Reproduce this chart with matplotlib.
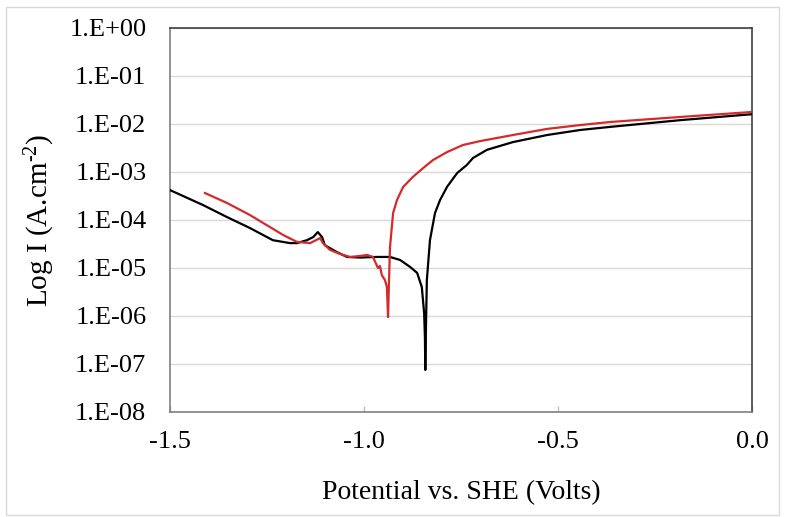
import matplotlib
matplotlib.use("Agg")
import matplotlib.pyplot as plt
from matplotlib.patches import Rectangle
from matplotlib.ticker import FixedLocator

plt.rcParams['font.family'] = ['Liberation Serif', 'DejaVu Serif']
plt.rcParams['mathtext.fontset'] = 'custom'
plt.rcParams['mathtext.rm'] = 'Liberation Serif'
plt.rcParams['mathtext.it'] = 'Liberation Serif:italic'

# Black curve (sample 1)
black_v = [-1.500, -1.415, -1.353, -1.294, -1.235, -1.191, -1.173, -1.147, -1.131, -1.119,
           -1.108, -1.101, -1.088, -1.070, -1.044, -1.010, -0.967, -0.933, -0.907, -0.881,
           -0.863, -0.851, -0.845, -0.843, -0.842, -0.840, -0.838, -0.830, -0.817, -0.804,
           -0.786, -0.760, -0.735, -0.719, -0.683, -0.616, -0.528, -0.443, -0.366, -0.186, 0.000]
black_i = [4.2e-4, 2.05e-4, 1.15e-4, 6.8e-5, 3.8e-5, 3.3e-5, 3.3e-5, 3.8e-5, 4.4e-5, 5.6e-5,
           4.4e-5, 3.0e-5, 2.6e-5, 2.15e-5, 1.7e-5, 1.65e-5, 1.7e-5, 1.7e-5, 1.47e-5, 1.05e-5,
           7.9e-6, 4.0e-6, 1.15e-6, 3.6e-7, 7.5e-8, 8.0e-7, 5.6e-6, 3.8e-5, 1.4e-4, 2.6e-4,
           4.9e-4, 9.5e-4, 1.4e-3, 1.96e-3, 2.9e-3, 4.2e-3, 5.9e-3, 7.5e-3, 8.7e-3, 1.2e-2, 1.6e-2]

# Red curve (sample 2)
red_v = [-1.410, -1.353, -1.294, -1.242, -1.209, -1.173, -1.139, -1.113, -1.106, -1.088,
         -1.062, -1.036, -1.010, -0.992, -0.977, -0.964, -0.959, -0.954, -0.946, -0.941,
         -0.938, -0.936, -0.933, -0.925, -0.915, -0.899, -0.874, -0.848, -0.822, -0.786,
         -0.745, -0.701, -0.616, -0.528, -0.443, -0.366, -0.186, 0.000]
red_i = [3.65e-4, 2.26e-4, 1.27e-4, 7.1e-5, 4.9e-5, 3.5e-5, 3.3e-5, 4.2e-5, 3.3e-5, 2.4e-5,
         1.96e-5, 1.7e-5, 1.78e-5, 1.87e-5, 1.7e-5, 1.0e-5, 1.1e-5, 7.1e-6, 5.6e-6, 4.0e-6,
         9.5e-7, 4.0e-6, 2.7e-5, 1.4e-4, 2.6e-4, 4.9e-4, 7.9e-4, 1.2e-3, 1.78e-3, 2.6e-3,
         3.65e-3, 4.4e-3, 5.9e-3, 7.9e-3, 9.5e-3, 1.1e-2, 1.4e-2, 1.78e-2]

x_ticks = [-1.5, -1.0, -0.5, 0.0]
x_tick_labels = ["-1.5", "-1.0", "-0.5", "0.0"]
y_ticks = [1e-8, 1e-7, 1e-6, 1e-5, 1e-4, 1e-3, 1e-2, 1e-1, 1e0]
y_tick_labels = ["1.E-08", "1.E-07", "1.E-06", "1.E-05", "1.E-04",
                 "1.E-03", "1.E-02", "1.E-01", "1.E+00"]

fig = plt.figure(figsize=(7.85, 5.17), dpi=100)
ax = fig.add_axes([170/785, 1-412/517, (752-170)/785, (412-28)/517])

ax.plot(black_v, black_i, color='black', lw=1.6, zorder=3)
ax.plot(red_v, red_i, color='#d42a2a', lw=1.6, zorder=4)

ax.set_yscale('log')
ax.set_xlim(-1.5, 0.0)
ax.set_ylim(1e-8, 1e0)
ax.yaxis.set_major_locator(FixedLocator(y_ticks))
ax.set_yticklabels(y_tick_labels)
ax.yaxis.set_minor_locator(FixedLocator([]))
ax.set_xticks(x_ticks)
ax.set_xticklabels(x_tick_labels)

ax.grid(axis='y', color='#d9d9d9', lw=1.0)
ax.set_axisbelow(True)

ax.tick_params(axis='y', length=0, pad=17, labelsize=19)
ax.tick_params(axis='x', direction='in', length=4, width=1, color='#bfbfbf', pad=14, labelsize=19)

for s in ax.spines.values():
    s.set_color('#404040')
    s.set_linewidth(1.2)
ax.spines['left'].set_color('#808080')
ax.spines['bottom'].set_color('#808080')

ax.set_xlabel("Potential vs. SHE (Volts)", fontsize=20, labelpad=19)
ax.set_ylabel("Log I (A.cm$^{\\text{-2}}$)", fontsize=21, labelpad=9)

fig.patches.append(Rectangle((6/785, 2/517), 773/785, 508/517, transform=fig.transFigure,
                             fill=False, edgecolor='#d9d9d9', lw=1.0))

fig.savefig("out.png", dpi=100)
